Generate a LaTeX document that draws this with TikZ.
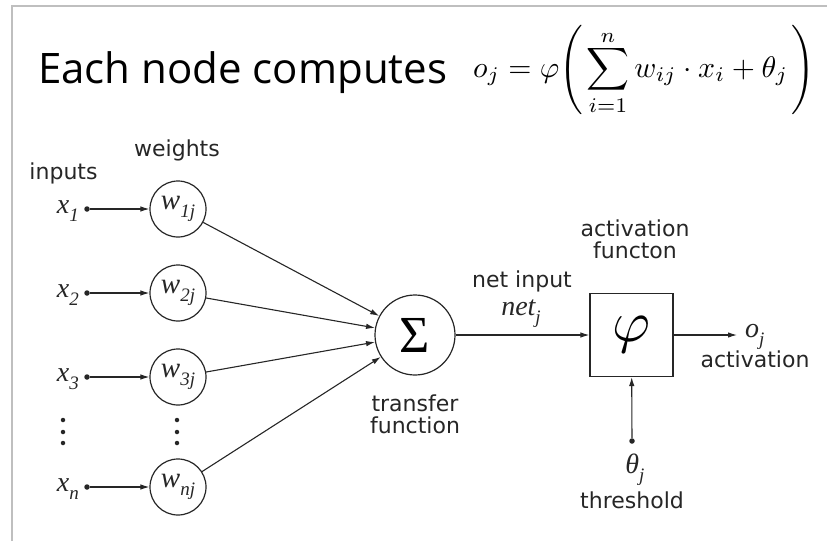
\documentclass[tikz,border=0pt]{standalone}
\usepackage{fontspec}
\usepackage{amsmath}
\usepackage{graphicx}
\usetikzlibrary{arrows.meta}
\newfontfamily\labelfont{DejaVu Sans}
\newfontfamily\titlefont{Open Sans}
\newfontfamily\varfont{Liberation Serif}
% italic variable with a lowered, smaller index
\newcommand\ivar[3][19]{{\varfont\itshape #2\raisebox{-0.3em}{\fontsize{#1}{#1}\selectfont #3}}}
% large fixed-size parentheses
\newcommand\tallstrut{\vrule height 17pt depth 12pt width 0pt}
\newcommand\bigopen{\mathopen{\left(\tallstrut\right.}}
\newcommand\bigclose{\mathclose{\left.\tallstrut\right)}}
% upper limit set closer to the summation sign
\newcommand\nearlimit[1]{\raisebox{-6.5pt}[\height][0pt]{$\scriptstyle #1$}}

\begin{document}
\begin{tikzpicture}[x=1pt,y=-1pt,
  lbl/.style={font=\labelfont\fontsize{22}{22}\selectfont, align=center, inner sep=0pt, text=black!85},
  var/.style={font=\varfont\itshape\fontsize{28}{28}\selectfont, inner sep=0pt, text=black!85},
  wcirc/.style={circle, draw=black!85, line width=1.2pt, minimum size=56pt, inner sep=0pt,
                font=\varfont\itshape\fontsize{29}{29}\selectfont, text=black!85},
  conn/.style={draw=black!85, line width=1.1pt, -{Latex[length=9pt,width=5.5pt]}},
  dotnode/.style={circle, fill=black!85, inner sep=0pt, minimum size=5.5pt},
  vdot/.style={circle, fill=black!85, inner sep=0pt, minimum size=4.5pt}]

\useasboundingbox (0,0) rectangle (827,541);
\draw[black!25, line width=1.5pt] (12,541) -- (12,6) -- (827,6);

% heading with the neuron formula
\node[anchor=base west, inner sep=0pt] (title) at (38,83)
  {\titlefont\fontsize{42}{48}\selectfont Each node computes};
\node[anchor=base west, inner sep=0pt] (formula) at (473,77)
  {\resizebox{342pt}{!}{$\displaystyle
    o_j=\varphi\bigopen\sum_{i=1}^{\nearlimit{n}} w_{ij}\cdot x_i+\theta_j\bigclose$}};

% column captions
\node[lbl, anchor=base] (inputs) at (63.5,179) {inputs};
\node[lbl, anchor=base] (weights) at (177,156) {weights};

% weight circles
\node[wcirc] (w1) at (178,209) {\ivar{w}{1j}};
\node[wcirc] (w2) at (178,293) {\ivar{w}{2j}};
\node[wcirc] (w3) at (178,377) {\ivar{w}{3j}};
\node[wcirc] (wn) at (178,487) {\ivar{w}{nj}};

% input points
\node[dotnode] (d1) at (87,209) {};
\node[dotnode] (d2) at (87,293) {};
\node[dotnode] (d3) at (87,377) {};
\node[dotnode] (dn) at (87,487) {};

\node[var, anchor=base east] (x1) at (79,213) {\ivar{x}{1}};
\node[var, anchor=base east] (x2) at (79,297) {\ivar{x}{2}};
\node[var, anchor=base east] (x3) at (79,381) {\ivar{x}{3}};
\node[var, anchor=base east] (xn) at (79,491) {\ivar{x}{n}};

% vertical ellipses
\foreach \c in {63,177}{
  \node[vdot] (e1-\c) at (\c,420) {};
  \node[vdot] (e2-\c) at (\c,432) {};
  \node[vdot] (e3-\c) at (\c,443) {};
}

% summation and activation blocks
\node[circle, draw=black!85, line width=1.2pt, minimum size=80pt, inner sep=0pt] (sum) at (415,335)
  {\varfont\fontsize{52}{52}\selectfont Σ};
\node[draw=black!85, line width=1.2pt, minimum size=83pt, inner sep=0pt] (act) at (631.5,335)
  {\scalebox{5.8}{$\varphi$}};

% connectors
\draw[conn] (d1) -- (w1);
\draw[conn] (d2) -- (w2);
\draw[conn] (d3) -- (w3);
\draw[conn] (dn) -- (wn);
\draw[conn] (w1) -- (sum);
\draw[conn] (w2) -- (sum);
\draw[conn] (w3) -- (sum);
\draw[conn] (wn) -- (sum);
\draw[conn] (sum) -- (act);
\coordinate (out) at (737,335);
\draw[conn] (act) -- (out);
\node[dotnode] (th) at (632,441) {};
\draw[conn] (th) -- (act);

% labels
\node[lbl, anchor=base] (netin) at (522,287) {net input};
\node[var, anchor=base] (net) at (521,315) {\ivar{net}{j}};
\node[lbl, anchor=base] (tf) at (415,433) {transfer\\function};
\node[lbl, anchor=base] (af) at (635,258) {activation\\functon};
\node[var, anchor=base west] (oj) at (745,337) {\ivar{o}{j}};
\node[lbl, anchor=base] (actlbl) at (755,367) {activation};
\node[var, anchor=base] (theta) at (635,473) {\ivar{θ}{j}};
\node[lbl, anchor=base] (thr) at (632,508) {threshold};
\end{tikzpicture}
\end{document}
